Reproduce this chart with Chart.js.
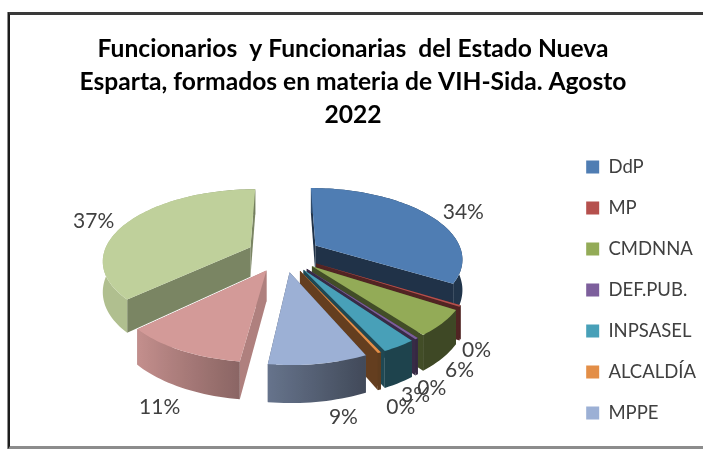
<!DOCTYPE html>
<html>
<head>
<meta charset="utf-8">
<script src="https://cdn.jsdelivr.net/npm/chart.js@4"></script>
<style>
    html, body { margin: 0; background: #fff; }
    #frame { position: absolute; left: 8px; top: 12px; width: 693px; height: 431px; border-left: 2px solid #1c1c1c; border-top: 3px solid #3a3a3a; border-bottom: 3px solid #8c8c8c; box-shadow: -1px 0 0 #8c8c8c; }
    #wrap { position: absolute; left: 0; top: 0; width: 703px; height: 449px; }
</style>
</head>
<body>
<div id="frame"></div>
<div id="wrap"><canvas id="pieChart"></canvas></div>
<script>
// Categories named in the legend (the last two slices have no legend row in the picture)
const categories = ['DdP', 'MP', 'CMDNNA', 'DEF.PUB.', 'INPSASEL', 'ALCALDÍA', 'MPPE'];

// Size of each slice
const seriesValues = [33.3, 0.3, 5.6, 0.3, 3.0, 0.3, 8.6, 10.9, 36.6];

const sliceColors = ['#4F7DB3', '#B5504D', '#93AB57', '#7D5F9C', '#48A0B8', '#E38E47', '#9CB0D5', '#D39A98', '#BFD09B'];

// How dark the flat cut faces of each slice are
const faceShades = [0.4, 0.45, 0.45, 0.45, 0.45, 0.44, 0.5, 0.83, 0.64];

// Label adjustments, best-fit placement from the original
const labelNudges = [[23, 0], [-1, 21], [1, 16], [1, 11], [4, 7], [11, 9], [21, 3], [-10, 13], [-22, 2]];

const pieRadius = 147;
const explode = 37;
const tilt = 0.476;
const perspective = 0.17;
const depth = 30;
const shiftX = 2;
const shiftY = -36;

function shade(hex, f) {
    const n = parseInt(hex.slice(1), 16);
    const r = Math.round((n >> 16) * f);
    const g = Math.round(((n >> 8) & 255) * f);
    const b = Math.round((n & 255) * f);
    return 'rgb(' + r + ',' + g + ',' + b + ')';
}

// Tilted pie: flat coords around the centre -> screen, front is larger
function project(c, x, y, z) {
    const s = 1 / (1 - perspective * y / pieRadius);
    return [c.x + x * s, c.y + y * tilt * s + z * s];
}

function rimPoints(arc, ox, oy) {
    const pts = [];
    const steps = Math.max(2, Math.ceil((arc.endAngle - arc.startAngle) / 0.03));
    for (let i = 0; i <= steps; i++) {
        const a = arc.startAngle + (arc.endAngle - arc.startAngle) * i / steps;
        pts.push([ox + Math.cos(a) * arc.outerRadius, oy + Math.sin(a) * arc.outerRadius, a]);
    }
    return pts;
}

function fillPoly(ctx, pts, style) {
    ctx.beginPath();
    pts.forEach((p, i) => i ? ctx.lineTo(p[0], p[1]) : ctx.moveTo(p[0], p[1]));
    ctx.closePath();
    ctx.fillStyle = style;
    ctx.fill();
}

function drawFace(ctx, c, a, b, style) {
    fillPoly(ctx, [project(c, a[0], a[1], 0), project(c, b[0], b[1], 0), project(c, b[0], b[1], depth), project(c, a[0], a[1], depth)], style);
}

// outer wall as one polygon, gradient follows the left-to-right lighting
function drawWall(ctx, c, rim, color) {
    const upper = rim.map(p => project(c, p[0], p[1], 0));
    const lower = rim.map(p => project(c, p[0], p[1], depth)).reverse();
    const xs = upper.map(p => p[0]);
    const xMin = Math.min(...xs);
    const xMax = Math.max(...xs);
    const grad = ctx.createLinearGradient(xMin, 0, xMax + 0.01, 0);
    rim.forEach((p, j) => {
        const nx = Math.cos(p[2]);
        const f = Math.min(0.92, Math.max(0.42, 0.6 - 0.45 * nx));
        grad.addColorStop((upper[j][0] - xMin) / (xMax + 0.01 - xMin), shade(color, f));
    });
    fillPoly(ctx, upper.concat(lower), grad);
}

function drawSlice(ctx, c, arc, i) {
    const mid = (arc.startAngle + arc.endAngle) / 2;
    const off = arc.options.offset;
    const ox = Math.cos(mid) * off;
    const oy = Math.sin(mid) * off;
    const color = sliceColors[i];
    const rim = rimPoints(arc, ox, oy);
    const apex = [ox, oy];

    drawFace(ctx, c, apex, rim[0], shade(color, faceShades[i]));
    drawFace(ctx, c, apex, rim[rim.length - 1], shade(color, faceShades[i]));
    drawWall(ctx, c, rim, color);

    const top = [project(c, apex[0], apex[1], 0)].concat(rim.map(p => project(c, p[0], p[1], 0)));
    fillPoly(ctx, top, color);
}

const tiltedPie = {
    id: 'tiltedPie',
    beforeDatasetsDraw(chart) {
        const ctx = chart.ctx;
        const arcs = chart.getDatasetMeta(0).data;
        const c = { x: arcs[0].x + shiftX, y: arcs[0].y + shiftY };
        const order = arcs.map((a, i) => i).sort((p, q) =>
            Math.sin((arcs[p].startAngle + arcs[p].endAngle) / 2) - Math.sin((arcs[q].startAngle + arcs[q].endAngle) / 2));
        order.forEach(i => drawSlice(ctx, c, arcs[i], i));

        // percent labels
        const total = seriesValues.reduce((s, v) => s + v, 0);
        ctx.font = '21px Lato';
        ctx.fillStyle = '#404040';
        ctx.textAlign = 'center';
        ctx.textBaseline = 'middle';
        arcs.forEach((arc, i) => {
            const mid = (arc.startAngle + arc.endAngle) / 2;
            const r = arc.outerRadius + arc.options.offset + 16;
            const p = project(c, Math.cos(mid) * r, Math.sin(mid) * r, depth * Math.max(0, Math.sin(mid)));
            ctx.fillText(Math.round(seriesValues[i] / total * 100) + '%', p[0] + labelNudges[i][0], p[1] + labelNudges[i][1]);
        });
        return false;
    }
};

new Chart(document.getElementById('pieChart').getContext('2d'), {
    type: 'pie',
    data: {
        labels: categories,
        datasets: [{
            data: seriesValues,
            backgroundColor: sliceColors,
            borderWidth: 0,
            offset: explode,
            radius: pieRadius
        }]
    },
    options: {
        responsive: true,
        maintainAspectRatio: false,
        animation: false,
        layout: { padding: { right: -3 } },
        plugins: {
            title: {
                display: true,
                text: ['Funcionarios  y Funcionarias  del Estado Nueva', 'Esparta, formados en materia de VIH-Sida. Agosto', '2022'],
                color: '#000',
                font: { family: 'Lato', size: 24.6, weight: 'bold', lineHeight: 1.33 },
                padding: { top: 33, bottom: 0 }
            },
            legend: {
                position: 'right',
                fullSize: false,
                labels: {
                    boxWidth: 13,
                    boxHeight: 13,
                    padding: 22.5,
                    color: '#404040',
                    font: { family: 'Lato', size: 18.5 }
                }
            },
            tooltip: { enabled: false }
        }
    },
    plugins: [tiltedPie]
});
</script>
</body>
</html>
